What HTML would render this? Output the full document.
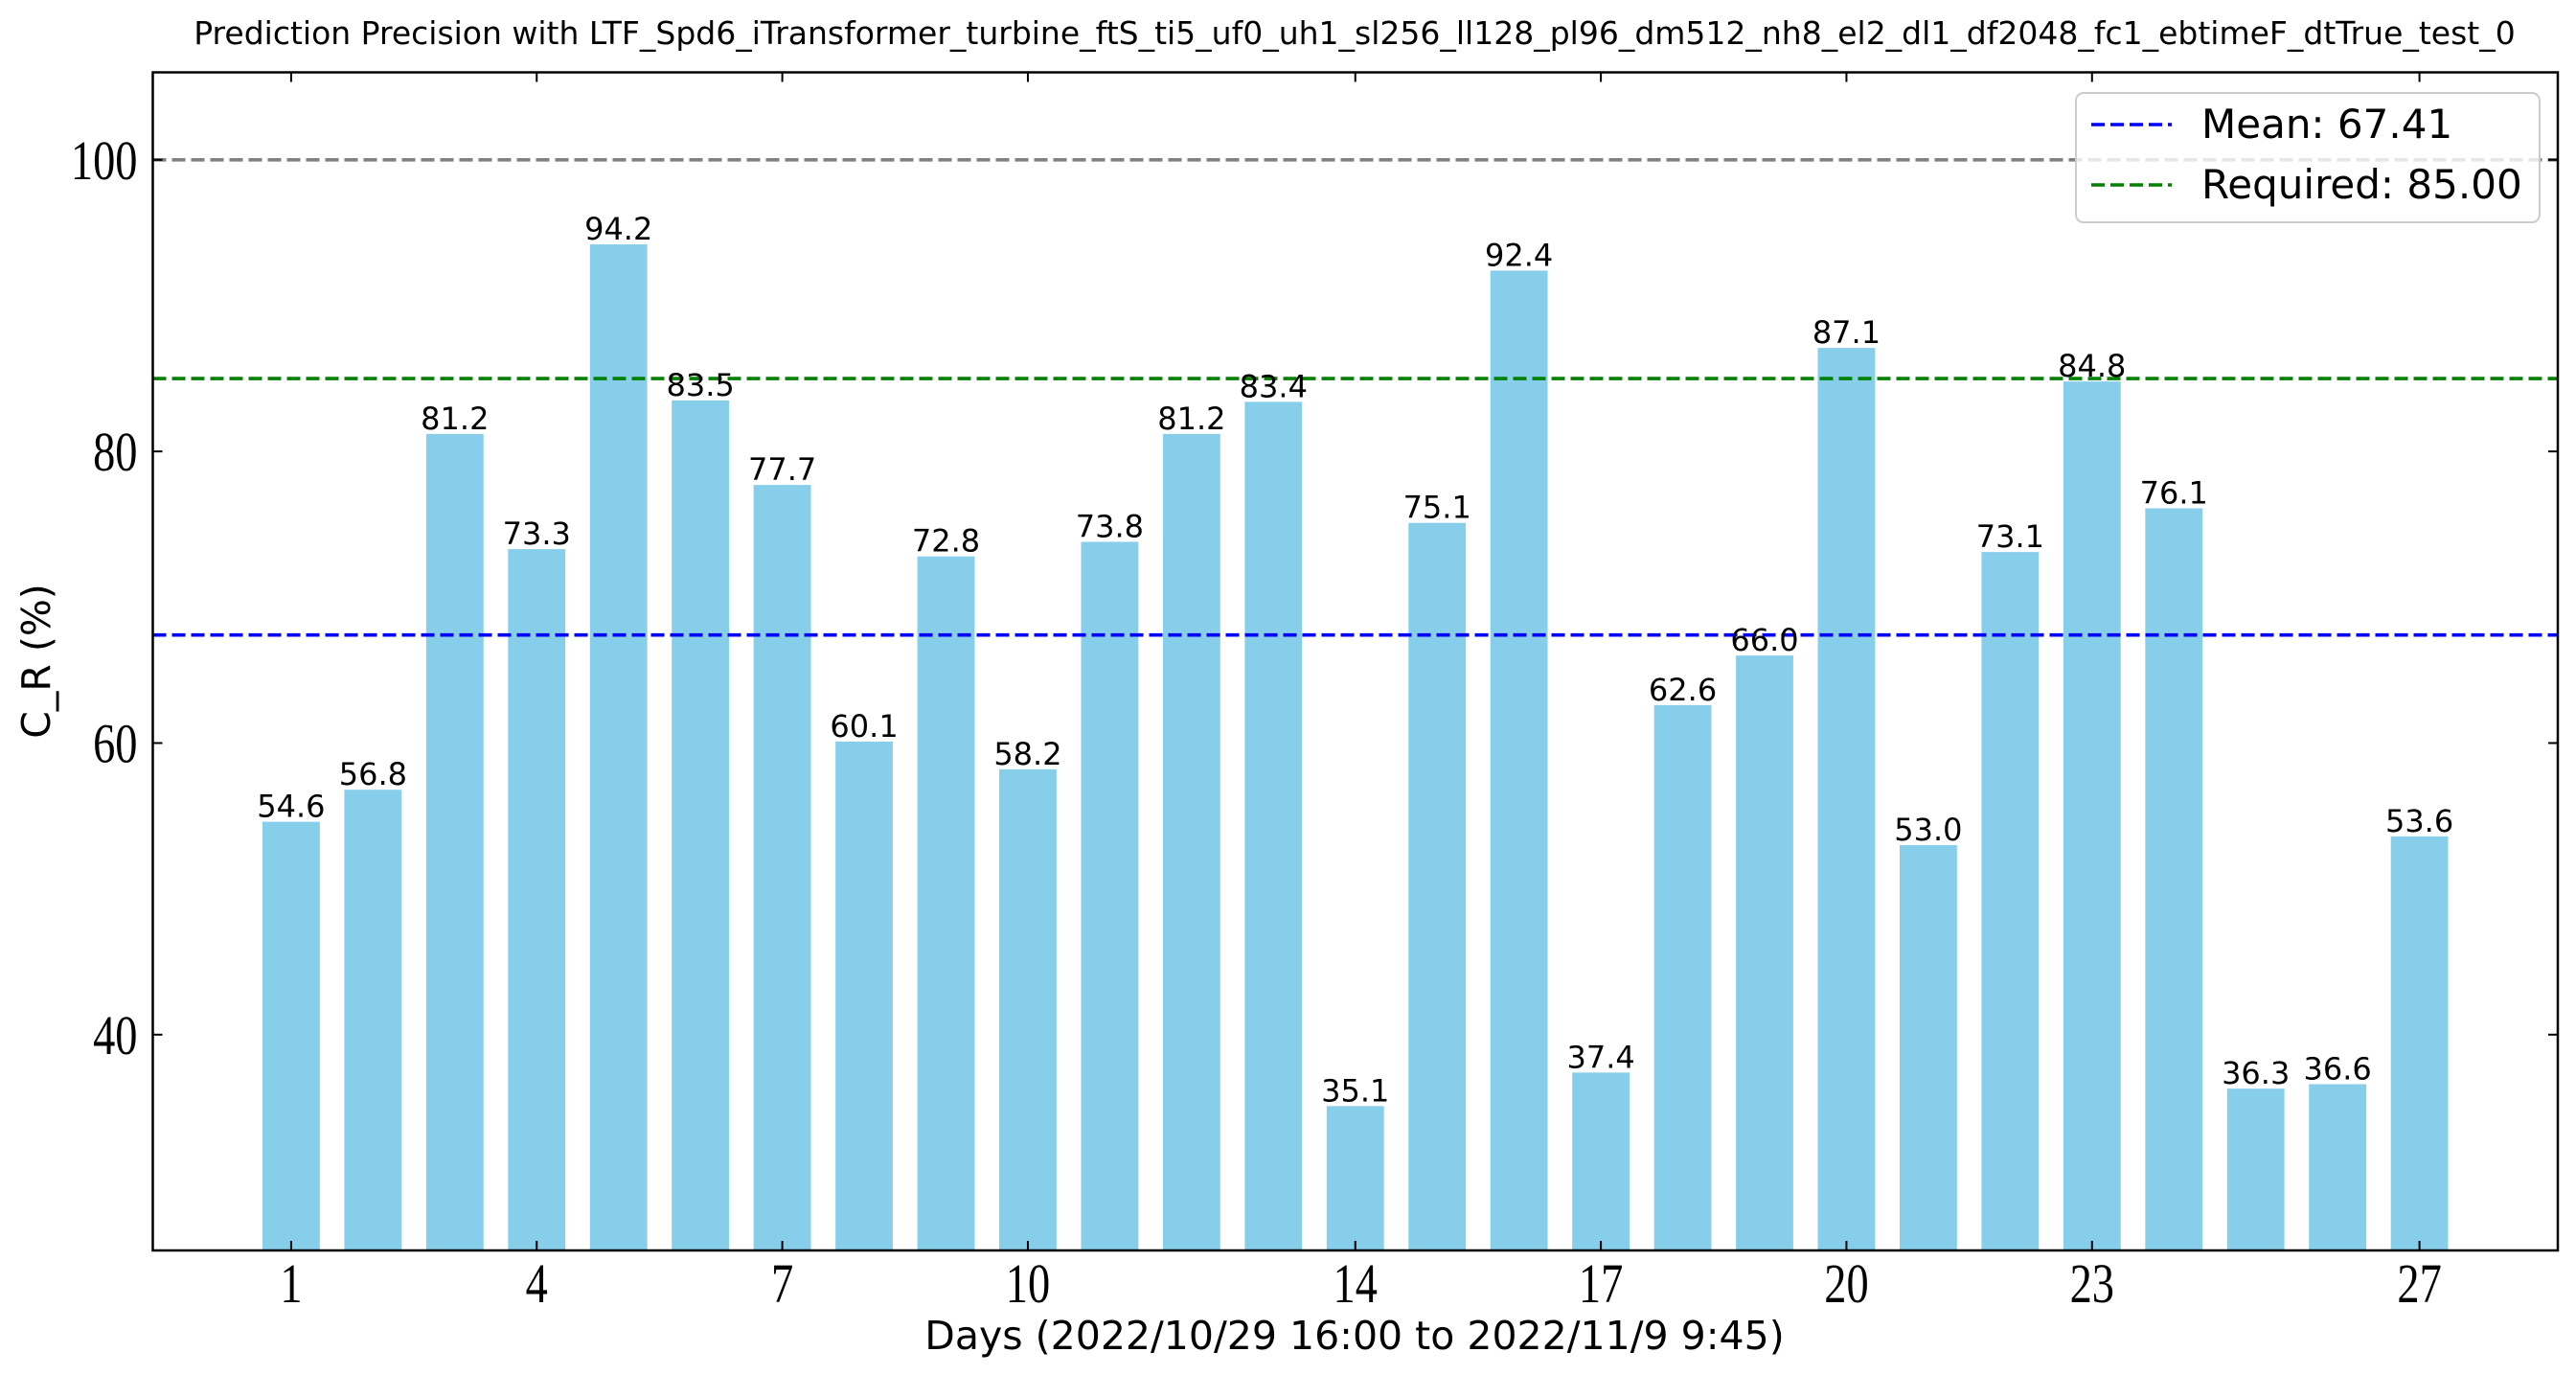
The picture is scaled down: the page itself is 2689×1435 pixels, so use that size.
<!DOCTYPE html>
<html><head><meta charset="utf-8"><style>
html,body{margin:0;padding:0;background:#fff;}
svg{display:block;}
</style></head><body>
<svg id="chart" width="2689" height="1435" viewBox="0 0 2689 1435" xmlns="http://www.w3.org/2000/svg">
<text x="1414" y="46" text-anchor="middle" font-family="DejaVu Sans, Liberation Sans, sans-serif" font-size="33">Prediction Precision with LTF_Spd6_iTransformer_turbine_ftS_ti5_uf0_uh1_sl256_ll128_pl96_dm512_nh8_el2_dl1_df2048_fc1_ebtimeF_dtTrue_test_0</text>
<g id="bars"></g>
<g id="lines"></g>
<g id="labels"></g>
<rect x="159.5" y="75.5" width="2510.5" height="1229.5" fill="none" stroke="#000" stroke-width="2.5"/>
<g id="ticks"></g>
<text transform="translate(52,690) rotate(-90)" text-anchor="middle" font-family="DejaVu Sans, Liberation Sans, sans-serif" font-size="41">C_R (%)</text>
<text x="1414" y="1408" text-anchor="middle" font-family="DejaVu Sans, Liberation Sans, sans-serif" font-size="41">Days (2022/10/29 16:00 to 2022/11/9 9:45)</text>
<g>
<rect x="2167" y="97" width="484" height="135" rx="8" fill="#fff" fill-opacity="0.8" stroke="#ccc" stroke-width="2"/>
<line x1="2183" y1="130" x2="2267" y2="130" stroke="#0000ff" stroke-width="3.5" stroke-dasharray="14,6"/>
<text x="2298" y="144" font-family="DejaVu Sans, Liberation Sans, sans-serif" font-size="42">Mean: 67.41</text>
<line x1="2183" y1="193" x2="2267" y2="193" stroke="#008000" stroke-width="3.5" stroke-dasharray="14,6"/>
<text x="2298" y="207" font-family="DejaVu Sans, Liberation Sans, sans-serif" font-size="42">Required: 85.00</text>
</g>
</svg>
<script>
const days = [1,2,3,4,5,6,7,8,9,10,11,12,13,14,15,16,17,18,19,20,21,22,23,24,25,26,27];
const values = [54.6,56.8,81.2,73.3,94.2,83.5,77.7,60.1,72.8,58.2,73.8,81.2,83.4,35.1,75.1,92.4,37.4,62.6,66.0,87.1,53.0,73.1,84.8,76.1,36.3,36.6,53.6];
const xTicks = [1,4,7,10,14,17,20,23,27];
const yTicks = [40,60,80,100];
const meanValue = 67.41;
const requiredValue = 85.0;
const maxValue = 100;

const NS = 'http://www.w3.org/2000/svg';
const L = 159.5, R = 2670, T = 75.5, B = 1305;
const xMin = -0.69, xMax = 28.69;
const yMin = 25.2, yMax = 106.0;
function xs(v){ return L + (v - xMin) / (xMax - xMin) * (R - L); }
function ys(v){ return B - (v - yMin) / (yMax - yMin) * (B - T); }
function mk(tag, attrs, parent){ const e = document.createElementNS(NS, tag); for (const k in attrs) e.setAttribute(k, attrs[k]); parent.appendChild(e); return e; }
const barsG = document.getElementById('bars');
const labelsG = document.getElementById('labels');
const linesG = document.getElementById('lines');
const ticksG = document.getElementById('ticks');
const bw = 0.7 * (xs(1) - xs(0));
days.forEach((d, i) => {
  const v = values[i];
  const r = mk('rect', {x: xs(d) - bw/2, y: ys(v), width: bw, height: B - ys(v), fill: '#87ceeb'}, barsG);
  
  
  const t = mk('text', {x: xs(d), y: ys(v) - 5, 'text-anchor': 'middle', 'font-family': 'DejaVu Sans, Liberation Sans, sans-serif', 'font-size': '32'}, labelsG);
  t.textContent = v.toFixed(1);
  
  
});
[[maxValue, '#808080', 'max-line'], [requiredValue, '#008000', 'required-line'], [meanValue, '#0000ff', 'mean-line']].forEach(([v, c, n]) => {
  const l = mk('line', {x1: L, x2: R, y1: ys(v), y2: ys(v), stroke: c, 'stroke-width': 3.6, 'stroke-dasharray': '14,6'}, linesG);
  
  
});
xTicks.forEach(d => {
  const x = xs(d);
  mk('line', {x1: x, x2: x, y1: B, y2: B - 10, stroke: '#000', 'stroke-width': 2}, ticksG);
  mk('line', {x1: x, x2: x, y1: T, y2: T + 10, stroke: '#000', 'stroke-width': 2}, ticksG);
  const t = mk('text', {transform: 'translate(' + x + ',' + (B + 54) + ') scale(0.8,1)', 'text-anchor': 'middle', 'font-family': 'Liberation Serif, serif', 'font-size': '58'}, ticksG);
  t.textContent = d;
  
  
});
yTicks.forEach(v => {
  const y = ys(v);
  mk('line', {x1: L, x2: L + 10, y1: y, y2: y, stroke: '#000', 'stroke-width': 2}, ticksG);
  mk('line', {x1: R, x2: R - 10, y1: y, y2: y, stroke: '#000', 'stroke-width': 2}, ticksG);
  const t = mk('text', {transform: 'translate(' + (L - 16) + ',' + (y + 20) + ') scale(0.8,1)', 'text-anchor': 'end', 'font-family': 'Liberation Serif, serif', 'font-size': '58'}, ticksG);
  t.textContent = v;
  
  
});
</script>
</body></html>
